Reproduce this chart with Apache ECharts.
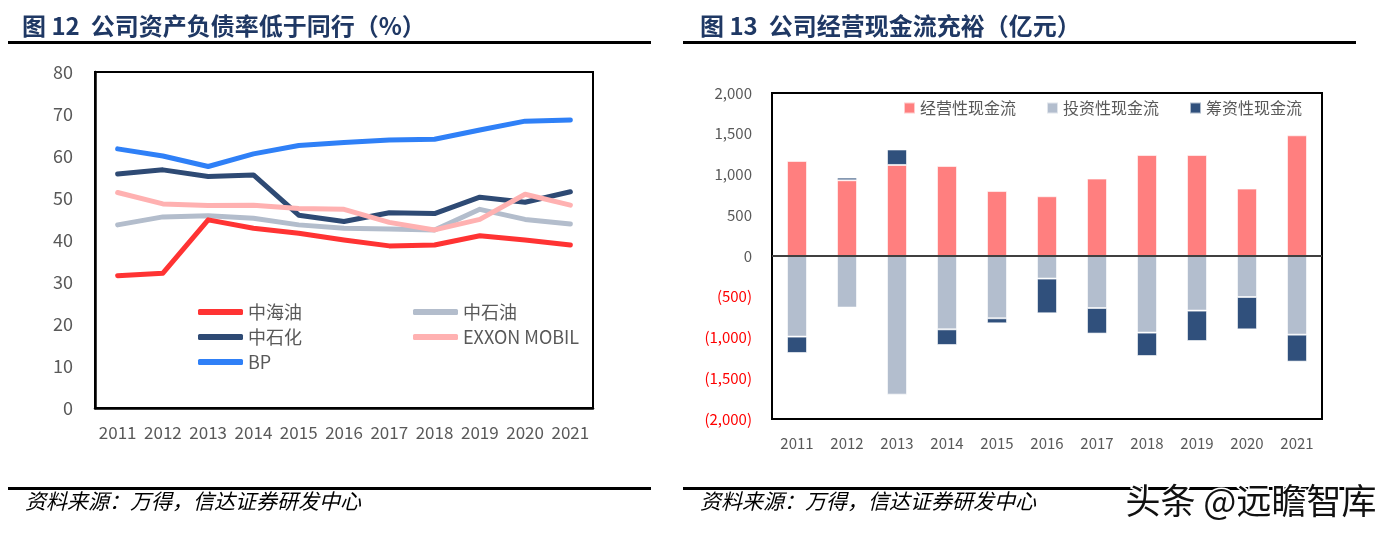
<!DOCTYPE html>
<html>
<head>
<meta charset="utf-8">
<script src="https://cdn.jsdelivr.net/npm/echarts@6/dist/echarts.min.js"></script>
<style>
html,body{margin:0;padding:0;background:#fff;}
#c{width:1396px;height:540px;}
</style>
</head>
<body>
<div id="c"></div>
<script>
// ---- data ----
const years = ['2011','2012','2013','2014','2015','2016','2017','2018','2019','2020','2021'];
// 资产负债率 (%)
const cnooc      = [31.5, 32.1, 44.8, 42.8, 41.6, 40.0, 38.6, 38.8, 41.0, 40.0, 38.8];
const petrochina = [43.6, 45.5, 45.8, 45.2, 43.6, 42.8, 42.6, 42.4, 47.3, 44.9, 43.8];
const sinopec    = [55.7, 56.7, 55.1, 55.5, 45.9, 44.4, 46.5, 46.3, 50.2, 49.0, 51.5];
const exxon      = [51.3, 48.6, 48.2, 48.3, 47.5, 47.3, 44.2, 42.4, 44.9, 50.9, 48.3];
const bp         = [61.7, 60.0, 57.5, 60.5, 62.5, 63.2, 63.8, 64.0, 66.2, 68.3, 68.6];
// 现金流 (亿元)
const opCF  = [1166, 929, 1117, 1104, 797, 733, 950, 1239, 1239, 827, 1481];
const invCF = [-989, -633, -1701, -900, -764, -277, -638, -940, -670, -503, -965];
const finCF = [-201, 33, 190, -192, -62, -426, -314, -287, -373, -397, -331];

const leftTitle = '图 12  公司资产负债率低于同行（%）';
const rightTitle = '图 13  公司经营现金流充裕（亿元）';
const source = '资料来源：万得，信达证券研发中心';
const watermark = '头条 @远瞻智库';

const FONT = '"Noto Sans CJK SC", "Noto Sans", sans-serif';
const GREY = '#595959';

function fmt(v){
  const a = Math.abs(v).toString().replace(/\B(?=(\d{3})+(?!\d))/g, ',');
  return v < 0 ? '(' + a + ')' : a;
}

const chart = echarts.init(document.getElementById('c'), null, {renderer:'canvas'});
const lineSeries = (name, data, color) => ({
  name, type:'line', data, xAxisIndex:0, yAxisIndex:0,
  symbol:'none', smooth:false,
  lineStyle:{color, width:5, cap:'round', join:'round'},
  itemStyle:{color}
});

chart.setOption({
  animation:false,
  textStyle:{fontFamily:FONT},
  grid:[
    {left:95, top:72, width:498, height:336, show:true, borderColor:'#000', borderWidth:2, backgroundColor:'transparent'},
    {left:772, top:93, width:550, height:326, show:true, borderColor:'#000', borderWidth:2, backgroundColor:'transparent'}
  ],
  xAxis:[
    {type:'category', gridIndex:0, data:years, boundaryGap:true,
     axisLine:{lineStyle:{color:'#000', width:2.5}}, axisTick:{show:false},
     axisLabel:{color:GREY, fontSize:17, margin:16, interval:0, hideOverlap:false, fontFamily:FONT}},
    {type:'category', gridIndex:1, data:years, boundaryGap:true,
     axisLine:{onZero:false, lineStyle:{color:'#000', width:2}}, axisTick:{show:false},
     axisLabel:{color:GREY, fontSize:15, margin:17, interval:0, fontFamily:FONT}}
  ],
  yAxis:[
    {type:'value', gridIndex:0, min:0, max:80, interval:10,
     axisLine:{show:true, lineStyle:{color:'#000', width:2.5}}, axisTick:{show:false},
     splitLine:{show:false},
     axisLabel:{color:GREY, fontSize:18, margin:22, fontFamily:FONT}},
    {type:'value', gridIndex:1, min:-2000, max:2000, interval:500,
     axisLine:{show:true, lineStyle:{color:'#000', width:2}}, axisTick:{show:false},
     splitLine:{show:false},
     axisLabel:{fontSize:15, margin:20, fontFamily:FONT,
       formatter:v=>fmt(v),
       color:(v)=> (Number(v) < 0 ? '#FF0000' : GREY)}}
  ],
  legend:[
    {left:193, top:298, orient:'vertical', itemGap:7, itemWidth:45, itemHeight:6,
     icon:'roundRect', selectedMode:false,
     textStyle:{color:GREY, fontSize:18, fontFamily:FONT},
     data:['中海油','中石化','BP']},
    {left:408, top:298, orient:'vertical', itemGap:7, itemWidth:45, itemHeight:6,
     icon:'roundRect', selectedMode:false,
     textStyle:{color:GREY, fontSize:18, fontFamily:FONT},
     data:['中石油','EXXON MOBIL']},
    {left:898, top:95, orient:'horizontal', itemGap:30, itemWidth:11, itemHeight:11,
     icon:'rect', selectedMode:false,
     textStyle:{color:GREY, fontSize:16, fontFamily:FONT},
     data:['经营性现金流','投资性现金流','筹资性现金流']}
  ],
  series:[
    lineSeries('中石油', petrochina, '#B3BDCC'),
    lineSeries('中海油', cnooc, '#FF3333'),
    lineSeries('中石化', sinopec, '#2E4A74'),
    lineSeries('EXXON MOBIL', exxon, '#FFB1B1'),
    lineSeries('BP', bp, '#2F80F7'),
    {name:'经营性现金流', type:'bar', xAxisIndex:1, yAxisIndex:1, stack:'cf', data:opCF,
     barWidth:20, itemStyle:{color:'#FF7F7F', borderColor:'rgba(255,255,255,0.6)', borderWidth:1},
     markLine:{silent:true, symbol:'none', label:{show:false},
       lineStyle:{color:'#404040', width:2, type:'solid'}, data:[{yAxis:0}]}},
    {name:'投资性现金流', type:'bar', xAxisIndex:1, yAxisIndex:1, stack:'cf', data:invCF,
     barWidth:20, itemStyle:{color:'#B3BECE', borderColor:'rgba(255,255,255,0.6)', borderWidth:1}},
    {name:'筹资性现金流', type:'bar', xAxisIndex:1, yAxisIndex:1, stack:'cf', data:finCF,
     barWidth:20, itemStyle:{color:'#30507C', borderColor:'rgba(255,255,255,0.6)', borderWidth:1}}
  ],
  graphic:[
    {type:'text', left:22, top:14, style:{text:leftTitle, font:'bold 24px ' + FONT, fill:'#1F3864'}},
    {type:'rect', shape:{x:8, y:41, width:643, height:3}, style:{fill:'#000'}},
    {type:'text', left:700, top:14, style:{text:rightTitle, font:'bold 24px ' + FONT, fill:'#1F3864'}},
    {type:'rect', shape:{x:683, y:41, width:673, height:3}, style:{fill:'#000'}},
    {type:'rect', shape:{x:8, y:487, width:643, height:3}, style:{fill:'#000'}},
    {type:'rect', shape:{x:683, y:487, width:673, height:3}, style:{fill:'#000'}},
    {type:'text', left:25, top:491, style:{text:source, font:'italic 21px ' + FONT, fill:'#000'}},
    {type:'text', left:700, top:491, style:{text:source, font:'italic 21px ' + FONT, fill:'#000'}},
    {type:'text', left:1124, top:482, z:100, style:{text:watermark, font:'35px ' + FONT, fill:'#111', stroke:'#fff', lineWidth:3}}
  ]
});
</script>
</body>
</html>
